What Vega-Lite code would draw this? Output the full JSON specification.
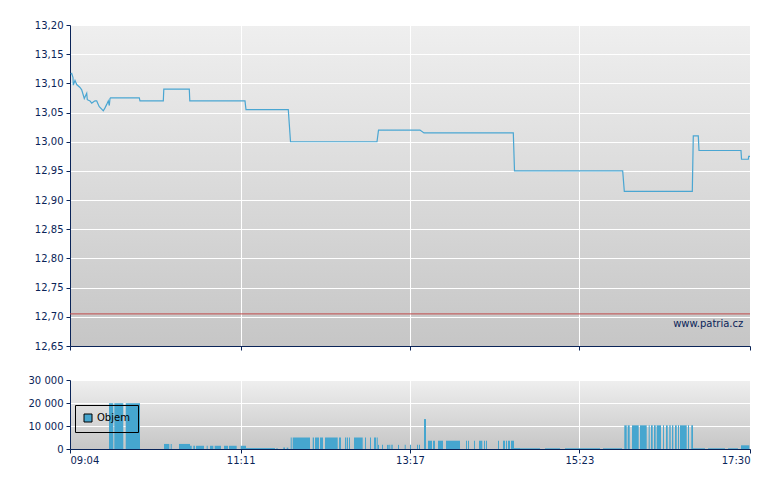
{
  "$schema": "https://vega.github.io/schema/vega-lite/v6.json",
  "background": "white",
  "padding": {"left": 28, "top": 20, "right": 0, "bottom": 0},
  "spacing": 34,
  "bounds": "flush",
  "config": {
    "font": "DejaVu Sans",
    "view": {
      "stroke": null,
      "fill": {
        "gradient": "linear", "x1": 0, "y1": 0, "x2": 0, "y2": 1,
        "stops": [{"offset": 0, "color": "#efefef"}, {"offset": 1, "color": "#c6c6c6"}]
      }
    },
    "axis": {
      "domainColor": "#0a2458",
      "tickColor": "#0a2458",
      "labelColor": "#0a2458",
      "labelFont": "DejaVu Sans",
      "labelFontSize": 10,
      "labelOverlap": false,
      "tickCount": 20,
      "gridColor": "white",
      "gridOpacity": 1,
      "gridWidth": 1,
      "tickSize": 4,
      "labelPadding": 3,
      "domainWidth": 1
    }
  },
  "vconcat": [
    {
      "width": 680,
      "height": 321,
      "layer": [
        {
          "data": {
            "values": [
              {"t": "09:04:30", "p": 13.116},
              {"t": "09:05:16", "p": 13.117},
              {"t": "09:06:14", "p": 13.110},
              {"t": "09:06:27", "p": 13.097},
              {"t": "09:07:43", "p": 13.105},
              {"t": "09:08:59", "p": 13.098},
              {"t": "09:11:26", "p": 13.093},
              {"t": "09:12:42", "p": 13.089},
              {"t": "09:14:38", "p": 13.074},
              {"t": "09:16:26", "p": 13.083},
              {"t": "09:16:52", "p": 13.072},
              {"t": "09:18:53", "p": 13.070},
              {"t": "09:20:09", "p": 13.066},
              {"t": "09:21:20", "p": 13.068},
              {"t": "09:22:36", "p": 13.070},
              {"t": "09:23:52", "p": 13.070},
              {"t": "09:24:37", "p": 13.066},
              {"t": "09:25:48", "p": 13.060},
              {"t": "09:27:35", "p": 13.056},
              {"t": "09:28:47", "p": 13.053},
              {"t": "09:30:03", "p": 13.058},
              {"t": "09:31:19", "p": 13.064},
              {"t": "09:32:30", "p": 13.070},
              {"t": "09:33:15", "p": 13.062},
              {"t": "09:33:46", "p": 13.074},
              {"t": "09:34:08", "p": 13.075},
              {"t": "09:55:34", "p": 13.075},
              {"t": "09:56:05", "p": 13.070},
              {"t": "10:13:26", "p": 13.070},
              {"t": "10:13:48", "p": 13.090},
              {"t": "10:32:46", "p": 13.090},
              {"t": "10:33:09", "p": 13.070},
              {"t": "11:14:13", "p": 13.070},
              {"t": "11:14:58", "p": 13.055},
              {"t": "11:46:26", "p": 13.055},
              {"t": "11:48:05", "p": 13.000},
              {"t": "12:52:26", "p": 13.000},
              {"t": "12:53:34", "p": 13.020},
              {"t": "13:24:26", "p": 13.020},
              {"t": "13:27:25", "p": 13.015},
              {"t": "14:33:52", "p": 13.015},
              {"t": "14:34:46", "p": 12.950},
              {"t": "15:55:16", "p": 12.950},
              {"t": "15:56:28", "p": 12.915},
              {"t": "16:47:04", "p": 12.915},
              {"t": "16:47:48", "p": 13.010},
              {"t": "16:51:31", "p": 13.010},
              {"t": "16:52:03", "p": 12.985},
              {"t": "17:23:18", "p": 12.985},
              {"t": "17:23:41", "p": 12.970},
              {"t": "17:28:44", "p": 12.970},
              {"t": "17:29:02", "p": 12.975},
              {"t": "17:30:00", "p": 12.975}
            ],
            "format": {"parse": {"t": "date:'%H:%M:%S'"}}
          },
          "mark": {"type": "line", "color": "#4aa6d2", "strokeWidth": 1.2},
          "encoding": {
            "x": {
              "field": "t",
              "type": "temporal",
              "scale": {"domain": [
                {"year": 1900, "month": 1, "date": 1, "hours": 9, "minutes": 4},
                {"year": 1900, "month": 1, "date": 1, "hours": 17, "minutes": 30}
              ]},
              "axis": {
                "title": null,
                "labels": false,
                "values": [
                  {"year": 1900, "month": 1, "date": 1, "hours": 9, "minutes": 4},
                  {"year": 1900, "month": 1, "date": 1, "hours": 11, "minutes": 11},
                  {"year": 1900, "month": 1, "date": 1, "hours": 13, "minutes": 17},
                  {"year": 1900, "month": 1, "date": 1, "hours": 15, "minutes": 23},
                  {"year": 1900, "month": 1, "date": 1, "hours": 17, "minutes": 30}
                ]
              }
            },
            "y": {
              "field": "p",
              "type": "quantitative",
              "scale": {"domain": [12.65, 13.2], "zero": false, "nice": false},
              "axis": {
                "title": null,
                "tickCount": 20,
                "values": [12.65, 12.7, 12.75, 12.8, 12.85, 12.9, 12.95, 13.0, 13.05, 13.1, 13.15, 13.2],
                "labelExpr": "replace(format(datum.value, '.2f'), '.', ',')"
              }
            }
          }
        },
        {
          "data": {"values": [{"close": 12.705}]},
          "mark": {"type": "rule", "color": "#c04a4a", "strokeWidth": 1},
          "encoding": {"y": {"field": "close", "type": "quantitative"}}
        },
        {
          "data": {"values": [{"label": "www.patria.cz"}]},
          "mark": {"type": "text", "align": "right", "baseline": "alphabetic", "font": "DejaVu Sans", "fontSize": 10, "color": "#0a2458"},
          "encoding": {
            "x": {"datum": {"year": 1900, "month": 1, "date": 1, "hours": 17, "minutes": 25}, "type": "temporal"},
            "y": {"datum": 12.683, "type": "quantitative"},
            "text": {"field": "label", "type": "nominal"}
          }
        }
      ]
    },
    {
      "width": 680,
      "height": 69,
      "data": {
        "values": [
          {"t0": "09:33:01", "t1": "09:36:13", "v": 19900},
          {"t0": "09:36:58", "t1": "09:43:40", "v": 19900},
          {"t0": "09:45:27", "t1": "09:56:05", "v": 19900},
          {"t0": "10:13:57", "t1": "10:17:53", "v": 2200},
          {"t0": "10:18:56", "t1": "10:19:41", "v": 2200},
          {"t0": "10:25:07", "t1": "10:33:18", "v": 2200},
          {"t0": "10:33:18", "t1": "10:34:34", "v": 1400},
          {"t0": "10:35:45", "t1": "10:37:00", "v": 1400},
          {"t0": "10:37:46", "t1": "10:43:43", "v": 1400},
          {"t0": "10:45:43", "t1": "10:46:28", "v": 1400},
          {"t0": "10:48:11", "t1": "10:50:38", "v": 1400},
          {"t0": "10:51:40", "t1": "10:56:22", "v": 1400},
          {"t0": "10:58:35", "t1": "11:01:34", "v": 1400},
          {"t0": "11:02:19", "t1": "11:08:02", "v": 1400},
          {"t0": "11:11:01", "t1": "11:14:58", "v": 1400},
          {"t0": "11:14:58", "t1": "11:36:33", "v": 400},
          {"t0": "11:37:40", "t1": "11:38:24", "v": 400},
          {"t0": "11:42:43", "t1": "11:43:59", "v": 600},
          {"t0": "11:45:15", "t1": "11:46:26", "v": 600},
          {"t0": "11:48:14", "t1": "11:48:58", "v": 5000},
          {"t0": "11:49:43", "t1": "12:02:35", "v": 5000},
          {"t0": "12:04:36", "t1": "12:05:34", "v": 5000},
          {"t0": "12:06:18", "t1": "12:09:17", "v": 5000},
          {"t0": "12:10:02", "t1": "12:12:16", "v": 5000},
          {"t0": "12:13:45", "t1": "12:23:12", "v": 5000},
          {"t0": "12:24:10", "t1": "12:25:40", "v": 5000},
          {"t0": "12:28:38", "t1": "12:29:23", "v": 5000},
          {"t0": "12:29:54", "t1": "12:30:52", "v": 5000},
          {"t0": "12:31:37", "t1": "12:32:21", "v": 5000},
          {"t0": "12:35:20", "t1": "12:41:48", "v": 5000},
          {"t0": "12:43:31", "t1": "12:44:16", "v": 5000},
          {"t0": "12:47:14", "t1": "12:47:59", "v": 5000},
          {"t0": "12:50:13", "t1": "12:51:42", "v": 5000},
          {"t0": "12:52:13", "t1": "12:52:58", "v": 5000},
          {"t0": "12:53:11", "t1": "12:53:56", "v": 1800},
          {"t0": "12:56:10", "t1": "12:56:55", "v": 1800},
          {"t0": "12:59:53", "t1": "13:01:09", "v": 1800},
          {"t0": "13:01:36", "t1": "13:02:20", "v": 1800},
          {"t0": "13:03:05", "t1": "13:04:08", "v": 1800},
          {"t0": "13:08:04", "t1": "13:08:49", "v": 1800},
          {"t0": "13:13:04", "t1": "13:13:48", "v": 1800},
          {"t0": "13:17:00", "t1": "13:17:44", "v": 1800},
          {"t0": "13:22:13", "t1": "13:22:57", "v": 1800},
          {"t0": "13:23:42", "t1": "13:24:26", "v": 1800},
          {"t0": "13:27:25", "t1": "13:28:55", "v": 13000},
          {"t0": "13:30:23", "t1": "13:33:22", "v": 3600},
          {"t0": "13:34:07", "t1": "13:35:36", "v": 3600},
          {"t0": "13:37:50", "t1": "13:41:34", "v": 3600},
          {"t0": "13:43:47", "t1": "13:54:13", "v": 3600},
          {"t0": "13:58:40", "t1": "13:59:25", "v": 3600},
          {"t0": "14:00:10", "t1": "14:00:54", "v": 3600},
          {"t0": "14:04:37", "t1": "14:05:22", "v": 3600},
          {"t0": "14:08:20", "t1": "14:10:48", "v": 3600},
          {"t0": "14:12:04", "t1": "14:12:49", "v": 3600},
          {"t0": "14:13:33", "t1": "14:14:18", "v": 3600},
          {"t0": "14:22:29", "t1": "14:23:13", "v": 3600},
          {"t0": "14:26:12", "t1": "14:27:41", "v": 3600},
          {"t0": "14:28:26", "t1": "14:29:11", "v": 3600},
          {"t0": "14:29:55", "t1": "14:31:25", "v": 3600},
          {"t0": "14:32:10", "t1": "14:34:23", "v": 3600},
          {"t0": "14:34:23", "t1": "14:38:51", "v": 400},
          {"t0": "14:38:51", "t1": "14:53:44", "v": 300},
          {"t0": "14:57:28", "t1": "15:08:37", "v": 300},
          {"t0": "15:12:20", "t1": "15:38:23", "v": 300},
          {"t0": "15:40:37", "t1": "15:54:45", "v": 300},
          {"t0": "15:56:28", "t1": "15:58:15", "v": 10300},
          {"t0": "15:59:00", "t1": "16:00:29", "v": 10300},
          {"t0": "16:02:11", "t1": "16:07:11", "v": 10300},
          {"t0": "16:08:09", "t1": "16:13:08", "v": 10300},
          {"t0": "16:14:37", "t1": "16:15:22", "v": 10300},
          {"t0": "16:16:20", "t1": "16:17:36", "v": 10300},
          {"t0": "16:18:34", "t1": "16:19:49", "v": 10300},
          {"t0": "16:20:34", "t1": "16:23:46", "v": 10300},
          {"t0": "16:25:16", "t1": "16:26:00", "v": 10300},
          {"t0": "16:27:29", "t1": "16:28:45", "v": 10300},
          {"t0": "16:29:57", "t1": "16:30:59", "v": 10300},
          {"t0": "16:31:58", "t1": "16:32:56", "v": 10300},
          {"t0": "16:34:11", "t1": "16:35:28", "v": 10300},
          {"t0": "16:36:25", "t1": "16:37:10", "v": 10300},
          {"t0": "16:37:55", "t1": "16:42:54", "v": 10300},
          {"t0": "16:43:52", "t1": "16:44:37", "v": 10300},
          {"t0": "16:46:19", "t1": "16:47:35", "v": 10300},
          {"t0": "16:47:35", "t1": "16:56:31", "v": 300},
          {"t0": "16:58:45", "t1": "17:11:24", "v": 300},
          {"t0": "17:13:38", "t1": "17:21:04", "v": 300},
          {"t0": "17:23:18", "t1": "17:29:29", "v": 1600}
        ],
        "format": {"parse": {"t0": "date:'%H:%M:%S'", "t1": "date:'%H:%M:%S'"}}
      },
      "mark": {"type": "rect", "opacity": 1},
      "encoding": {
        "x": {
          "field": "t0",
          "type": "temporal",
          "scale": {"domain": [
            {"year": 1900, "month": 1, "date": 1, "hours": 9, "minutes": 4},
            {"year": 1900, "month": 1, "date": 1, "hours": 17, "minutes": 30}
          ]},
          "axis": {
            "title": null,
            "format": "%H:%M",
            "labelPadding": 2,
            "values": [
              {"year": 1900, "month": 1, "date": 1, "hours": 9, "minutes": 4},
              {"year": 1900, "month": 1, "date": 1, "hours": 11, "minutes": 11},
              {"year": 1900, "month": 1, "date": 1, "hours": 13, "minutes": 17},
              {"year": 1900, "month": 1, "date": 1, "hours": 15, "minutes": 23},
              {"year": 1900, "month": 1, "date": 1, "hours": 17, "minutes": 30}
            ]
          }
        },
        "x2": {"field": "t1"},
        "y": {
          "field": "v",
          "type": "quantitative",
          "scale": {"domain": [0, 30000], "nice": false},
          "axis": {
            "title": null,
            "tickCount": 20,
            "values": [0, 10000, 20000, 30000],
            "labelExpr": "replace(format(datum.value, ','), ',', ' ')"
          }
        },
        "y2": {"datum": 0},
        "color": {
          "datum": "Objem",
          "type": "nominal",
          "scale": {"range": ["#46a6cf"]},
          "legend": {
            "title": null,
            "orient": "none",
            "legendX": 5,
            "legendY": 380,
            "strokeColor": "black",
            "padding": 8,
            "symbolType": "square",
            "symbolSize": 64,
            "symbolOpacity": 1,
            "labelFont": "DejaVu Sans",
            "labelFontSize": 10,
            "labelColor": "black",
            "labelOffset": 4,
            "encode": {
              "symbols": {"update": {"stroke": {"value": "black"}, "strokeWidth": {"value": 1}}}
            }
          }
        }
      }
    }
  ]
}
